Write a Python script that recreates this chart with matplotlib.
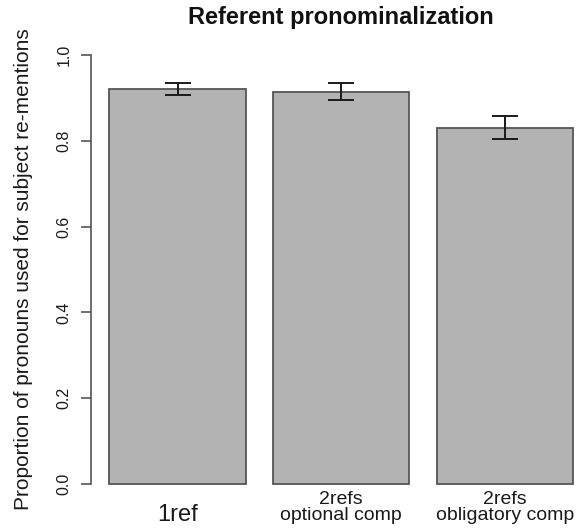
import matplotlib
matplotlib.use("Agg")
import matplotlib.pyplot as plt
import matplotlib.transforms as mtransforms

# ---- data ----
categories = ["1ref", "2refs\noptional comp", "2refs\nobligatory comp"]
proportions = [0.921, 0.915, 0.8305]
err_low = [0.906, 0.896, 0.804]
err_high = [0.9355, 0.935, 0.858]
yticks = [0.0, 0.2, 0.4, 0.6, 0.8, 1.0]
ytick_labels = ["0.0", "0.2", "0.4", "0.6", "0.8", "1.0"]
title = "Referent pronominalization"
ylabel = "Proportion of pronouns used for subject re-mentions"

plt.rcParams['font.family'] = ['Liberation Sans', 'DejaVu Sans']

W, H = 577, 531
fig = plt.figure(figsize=(W / 100, H / 100), dpi=100)
ax = fig.add_axes([90.75 / W, (H - 501.2) / H, (591.7 - 90.75) / W, 463.3 / H])

centers = [0.7 + 1.2 * i for i in range(len(categories))]
ax.bar(centers, proportions, width=1.0, color='#b3b3b3',
       edgecolor='#555555', linewidth=1.3, zorder=2)

yerr = [[p - lo for p, lo in zip(proportions, err_low)],
        [hi - p for p, hi in zip(proportions, err_high)]]
ax.errorbar(centers, proportions, yerr=yerr, fmt='none', ecolor='#1a1a1a',
            elinewidth=1.4, capsize=9.4, capthick=1.4, zorder=3)

ax.set_xlim(0.064, 3.736)
ax.set_ylim(-0.04, 1.04)

for s in ['top', 'right', 'bottom']:
    ax.spines[s].set_visible(False)
ax.spines['left'].set_bounds(0, 1)
ax.spines['left'].set_color('#555555')
ax.spines['left'].set_linewidth(1.2)

ax.set_xticks([])
ax.set_yticks(yticks)
ax.set_yticklabels(ytick_labels)
ax.tick_params(axis='y', length=7.2, width=1.2, color='#555555',
               labelsize=11.5, labelcolor='#1a1a1a', pad=8.9)
plt.setp(ax.get_yticklabels(), rotation=90, rotation_mode='anchor',
         ha='center', va='baseline')

ax.set_facecolor('white')

# y label
fig.text(29.3 / W, 1 - 269.6 / H, ylabel, rotation=90, rotation_mode='anchor',
         ha='center', va='baseline', fontsize=15, color='#1a1a1a')

# title
fig.text(341.2 / W, 1 - 24.0 / H, title, ha='center', va='baseline',
         fontsize=17, fontweight='bold', color='#111111')

# category labels
trans = mtransforms.blended_transform_factory(ax.transData, fig.transFigure)
for c, lab in zip(centers, categories):
    lines = lab.split("\n")
    if len(lines) == 1:
        ax.text(c, 1 - 520.7 / H, lines[0], transform=trans, ha='center',
                va='baseline', fontsize=17, color='#1a1a1a')
    else:
        ax.text(c, 1 - 504.0 / H, lines[0], transform=trans, ha='center',
                va='baseline', fontsize=14, color='#1a1a1a')
        ax.text(c, 1 - 520.0 / H, lines[1], transform=trans, ha='center',
                va='baseline', fontsize=14, color='#1a1a1a')

fig.savefig("out.png", dpi=100)
